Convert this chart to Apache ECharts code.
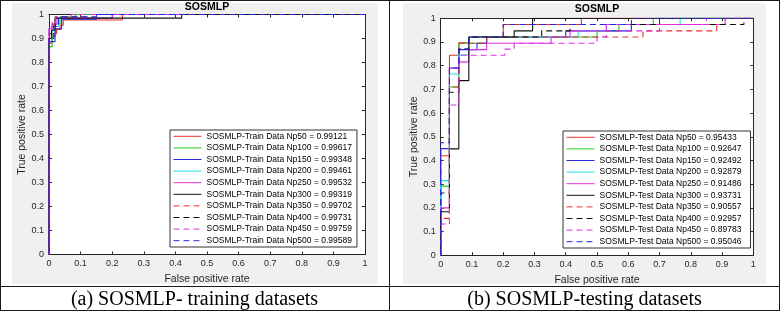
<!DOCTYPE html>
<html>
<head>
<meta charset="utf-8">
<script src="https://cdn.jsdelivr.net/npm/echarts@6/dist/echarts.min.js"></script>
<style>
  body { margin: 0; background: #fff; }
  #page { position: relative; width: 780px; height: 311px; overflow: hidden; }
  .panel { position: absolute; background: #f0f0f0; }
  .rule { position: absolute; background: #1a1a1a; }
  .cap { position: absolute; top: 287px; height: 23px; line-height: 23px; text-align: center;
         font-family: "Liberation Serif", "Times New Roman", serif; font-size: 20px; color: #000; }
  #main { position: absolute; left: 0; top: 0; width: 780px; height: 311px; }
</style>
</head>
<body>
<div id="page">
  <div class="panel" style="left:12px;top:3px;width:366px;height:281px"></div>
  <div class="panel" style="left:403px;top:3px;width:363px;height:281px"></div>
  <div id="main"></div>
  <div class="rule" style="left:0;top:0;width:780px;height:1px"></div>
  <div class="rule" style="left:0;top:310px;width:780px;height:1px"></div>
  <div class="rule" style="left:0;top:0;width:1px;height:311px"></div>
  <div class="rule" style="left:779px;top:0;width:1px;height:311px"></div>
  <div class="rule" style="left:389px;top:0;width:1px;height:311px"></div>
  <div class="rule" style="left:0;top:286px;width:780px;height:1px"></div>
  <div class="cap" style="left:0;width:389px">(a) SOSMLP- training datasets</div>
  <div class="cap" style="left:390px;width:389px">(b) SOSMLP-testing datasets</div>
</div>
<script>
// 曲线名称和 AUC
var curveNames = ['Np50', 'Np100', 'Np150', 'Np200', 'Np250', 'Np300', 'Np350', 'Np400', 'Np450', 'Np500']
var trainAuc = ['0.99121', '0.99617', '0.99348', '0.99461', '0.99532', '0.99319', '0.99702', '0.99731', '0.99759', '0.99589']
var testAuc = ['0.95433', '0.92647', '0.92492', '0.92879', '0.91486', '0.93731', '0.90557', '0.92957', '0.89783', '0.95046']
var axisTicks = [0, 0.1, 0.2, 0.3, 0.4, 0.5, 0.6, 0.7, 0.8, 0.9, 1]

// 训练集 ROC (fpr, tpr)
var trainNp50 = [[0, 0], [0, 0.88], [0.01, 0.88], [0.01, 0.92], [0.024, 0.92], [0.024, 0.938], [0.035, 0.938], [0.035, 0.955], [0.045, 0.955], [0.045, 0.977], [0.232, 0.977], [0.232, 1], [1, 1]]
var trainNp100 = [[0, 0], [0, 0.866], [0.01, 0.866], [0.01, 0.91], [0.02, 0.91], [0.02, 0.96], [0.035, 0.96], [0.035, 0.99], [0.084, 0.99], [0.084, 1], [1, 1]]
var trainNp150 = [[0, 0], [0, 0.887], [0.019, 0.887], [0.019, 0.94], [0.04, 0.94], [0.04, 0.98], [0.15, 0.98], [0.15, 1], [1, 1]]
var trainNp200 = [[0, 0], [0, 0.9], [0.01, 0.9], [0.01, 0.95], [0.03, 0.95], [0.03, 0.985], [0.2, 0.985], [0.2, 1], [1, 1]]
var trainNp250 = [[0, 0], [0, 0.942], [0.01, 0.942], [0.01, 0.96], [0.025, 0.96], [0.025, 0.985], [0.2, 0.985], [0.2, 1], [1, 1]]
var trainNp300 = [[0, 0], [0, 0.9], [0.008, 0.9], [0.008, 0.935], [0.019, 0.935], [0.019, 0.985], [0.42, 0.985], [0.42, 1], [1, 1]]
var trainNp350 = [[0, 0], [0, 0.91], [0.015, 0.91], [0.015, 0.96], [0.03, 0.96], [0.03, 0.99], [0.12, 0.99], [0.12, 1], [1, 1]]
var trainNp400 = [[0, 0], [0, 0.92], [0.008, 0.92], [0.008, 0.95], [0.02, 0.95], [0.02, 0.99], [0.058, 0.99], [0.058, 1], [1, 1]]
var trainNp450 = [[0, 0], [0, 0.95], [0.01, 0.95], [0.01, 0.97], [0.02, 0.97], [0.02, 0.99], [0.07, 0.99], [0.07, 1], [1, 1]]
var trainNp500 = [[0, 0], [0, 0.9], [0.015, 0.9], [0.015, 0.95], [0.03, 0.95], [0.03, 0.99], [0.15, 0.99], [0.15, 1], [1, 1]]

// 测试集 ROC (fpr, tpr)
var testNp50 = [[0, 0], [0, 0.42], [0.028, 0.42], [0.028, 0.844], [0.058, 0.844], [0.058, 0.897], [0.09, 0.897], [0.09, 0.921], [0.2, 0.921], [0.2, 0.974], [0.45, 0.974], [0.45, 1], [1, 1]]
var testNp100 = [[0, 0], [0, 0.292], [0.028, 0.292], [0.028, 0.71], [0.058, 0.71], [0.058, 0.895], [0.147, 0.895], [0.147, 0.921], [0.5, 0.921], [0.5, 0.947], [0.57, 0.947], [0.57, 0.974], [0.68, 0.974], [0.68, 1], [1, 1]]
var testNp150 = [[0, 0], [0, 0.45], [0.028, 0.45], [0.028, 0.79], [0.058, 0.79], [0.058, 0.868], [0.116, 0.868], [0.116, 0.895], [0.147, 0.895], [0.147, 0.921], [0.4, 0.921], [0.4, 0.947], [0.61, 0.947], [0.61, 0.974], [0.7, 0.974], [0.7, 1], [1, 1]]
var testNp200 = [[0, 0], [0, 0.315], [0.028, 0.315], [0.028, 0.765], [0.058, 0.765], [0.058, 0.845], [0.09, 0.845], [0.09, 0.921], [0.44, 0.921], [0.44, 0.947], [0.53, 0.947], [0.53, 0.974], [0.766, 0.974], [0.766, 1], [1, 1]]
var testNp250 = [[0, 0], [0, 0.2], [0.028, 0.2], [0.028, 0.79], [0.058, 0.79], [0.058, 0.816], [0.09, 0.816], [0.09, 0.868], [0.147, 0.868], [0.147, 0.895], [0.353, 0.895], [0.353, 0.921], [0.414, 0.921], [0.414, 0.947], [0.53, 0.947], [0.53, 0.974], [0.91, 0.974], [0.91, 1], [1, 1]]
var testNp300 = [[0, 0], [0, 0.184], [0.028, 0.184], [0.028, 0.449], [0.058, 0.449], [0.058, 0.737], [0.09, 0.737], [0.09, 0.921], [0.235, 0.921], [0.235, 0.947], [0.294, 0.947], [0.294, 1], [1, 1]]
var testNp350 = [[0, 0], [0, 0.156], [0.028, 0.156], [0.028, 0.71], [0.058, 0.71], [0.058, 0.895], [0.147, 0.895], [0.147, 0.921], [0.647, 0.921], [0.647, 0.947], [0.883, 0.947], [0.883, 0.974], [0.91, 0.974], [0.91, 1], [1, 1]]
var testNp400 = [[0, 0], [0, 0.263], [0.028, 0.263], [0.028, 0.688], [0.058, 0.688], [0.058, 0.87], [0.09, 0.87], [0.09, 0.921], [0.323, 0.921], [0.323, 0.947], [0.414, 0.947], [0.414, 0.974], [0.97, 0.974], [0.97, 1], [1, 1]]
var testNp450 = [[0, 0], [0, 0.132], [0.028, 0.132], [0.028, 0.634], [0.058, 0.634], [0.058, 0.844], [0.205, 0.844], [0.205, 0.87], [0.235, 0.87], [0.235, 0.895], [0.5, 0.895], [0.5, 0.921], [0.53, 0.921], [0.53, 0.947], [0.7, 0.947], [0.7, 0.974], [0.85, 0.974], [0.85, 1], [1, 1]]
var testNp500 = [[0, 0], [0, 0.475], [0.028, 0.475], [0.028, 0.79], [0.058, 0.79], [0.058, 0.87], [0.09, 0.87], [0.09, 0.921], [0.2, 0.921], [0.2, 0.974], [0.61, 0.974], [0.61, 1], [1, 1]]

var trainCurves = [trainNp50, trainNp100, trainNp150, trainNp200, trainNp250, trainNp300, trainNp350, trainNp400, trainNp450, trainNp500]
var testCurves = [testNp50, testNp100, testNp150, testNp200, testNp250, testNp300, testNp350, testNp400, testNp450, testNp500]

// 线条样式
var lineColors = ['#e8302c', '#22cc22', '#2828d8', '#1fdede', '#e030e0', '#111111', '#e8302c', '#111111', '#e030e0', '#2828d8']
var dash = [6, 4]
var lineTypes = ['solid', 'solid', 'solid', 'solid', 'solid', 'solid', dash, dash, dash, dash]

var FONT = '"Liberation Sans", Arial, sans-serif'
var AXIS_COLOR = '#262626'

function axis (type, pos, gridIndex, showLabel, name) {
  var a = {
    type: 'value',
    gridIndex: gridIndex,
    position: pos,
    min: axisTicks[0],
    max: axisTicks[axisTicks.length - 1],
    interval: axisTicks[1] - axisTicks[0],
    axisLine: { show: true, onZero: false, lineStyle: { color: AXIS_COLOR, width: 1 } },
    axisTick: { show: true, inside: true, length: 3, lineStyle: { color: AXIS_COLOR } },
    splitLine: { show: false },
    axisLabel: {
      show: showLabel,
      margin: 5,
      color: AXIS_COLOR,
      fontSize: 9,
      fontFamily: FONT,
      formatter: function (v) { return String(Math.round(v * 10) / 10) }
    }
  }
  if (name) {
    a.name = name
    a.nameLocation = 'middle'
    a.nameGap = type === 'x' ? 18 : 21
    a.nameTextStyle = { color: AXIS_COLOR, fontSize: 10.5, fontFamily: FONT }
  }
  return a
}

function buildSeries (curves, aucs, label, xi, yi) {
  return curves.map(function (c, i) {
    return {
      name: 'SOSMLP-' + label + ' Data ' + curveNames[i] + ' = ' + aucs[i],
      type: 'line',
      xAxisIndex: xi,
      yAxisIndex: yi,
      data: c,
      symbol: 'none',
      silent: true,
      animation: false,
      itemStyle: { color: lineColors[i] },
      lineStyle: { color: lineColors[i], width: 1.1, type: lineTypes[i] }
    }
  })
}

var trainSeries = buildSeries(trainCurves, trainAuc, 'Train', 0, 0)
var testSeries = buildSeries(testCurves, testAuc, 'Test', 2, 2)

function legend (left, top, series, padRight) {
  return {
    orient: 'vertical',
    left: left,
    top: top,
    data: series.map(function (s) { return s.name }),
    selectedMode: false,
    backgroundColor: '#fff',
    borderColor: '#333',
    borderWidth: 1,
    padding: [0.5, padRight, 0.5, 3],
    itemWidth: 28,
    itemHeight: 11.6,
    itemGap: 0,
    itemStyle: { color: 'rgba(0,0,0,0)', borderWidth: 0, opacity: 0 },
    lineStyle: { width: 1 },
    textStyle: { fontSize: 8.5, lineHeight: 11.6, color: '#000', fontFamily: FONT }
  }
}

var myChart = echarts.init(document.getElementById('main'), null, { renderer: 'canvas' })
myChart.setOption({
  animation: false,
  grid: [
    { left: 49, top: 14.5, width: 316, height: 240, show: true, backgroundColor: '#fff', borderWidth: 0 },
    { left: 440.7, top: 18.3, width: 312.6, height: 237, show: true, backgroundColor: '#fff', borderWidth: 0 }
  ],
  xAxis: [
    axis('x', 'bottom', 0, true, 'False positive rate'),
    axis('x', 'top', 0, false),
    axis('x', 'bottom', 1, true, 'False positive rate'),
    axis('x', 'top', 1, false)
  ],
  yAxis: [
    axis('y', 'left', 0, true, 'True positive rate'),
    axis('y', 'right', 0, false),
    axis('y', 'left', 1, true, 'True positive rate'),
    axis('y', 'right', 1, false)
  ],
  legend: [
    legend(170, 130, trainSeries, 5),
    legend(563, 131, testSeries, 9)
  ],
  graphic: [
    { type: 'text', x: 207, y: 7, style: { text: 'SOSMLP', align: 'center', verticalAlign: 'middle', font: 'bold 10.5px ' + FONT, fill: '#000' } },
    { type: 'text', x: 597, y: 9.5, style: { text: 'SOSMLP', align: 'center', verticalAlign: 'middle', font: 'bold 10.5px ' + FONT, fill: '#000' } }
  ],
  series: trainSeries.concat(testSeries)
})
</script>
</body>
</html>
